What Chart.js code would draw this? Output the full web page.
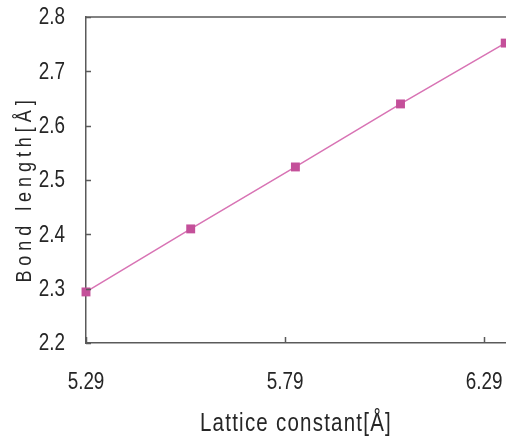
<!DOCTYPE html>
<html>
<head>
<meta charset="utf-8">
<script src="https://cdn.jsdelivr.net/npm/chart.js@4/dist/chart.umd.min.js"></script>
<style>
  html, body { margin: 0; padding: 0; background: #fff; overflow: hidden; }
  #wrap { width: 506px; height: 441px; position: relative; }
</style>
</head>
<body>
<div id="wrap"><canvas id="bondChart"></canvas></div>
<script>
// lattice constant vs. bond length
const latticeConstant = [5.29, 5.553, 5.816, 6.08, 6.343];
const bondLength = [2.294, 2.41, 2.524, 2.64, 2.752];
const xTickValues = [5.29, 5.79, 6.29];
const yTickValues = [2.2, 2.3, 2.4, 2.5, 2.6, 2.7, 2.8];

const xTitle = 'Lattice constant[Å]';
const yTitle = 'Bond length[Å]';

const FONT = "'Liberation Sans', Arial, sans-serif";
const NARROW = 0.82;   // horizontal squeeze for the narrow lettering
const axisColor = '#5a5a5a';
const textColor = '#262626';

// text squeezed horizontally around (x, y)
function narrowText(ctx, text, x, y, align, size, spacing, angle = 0) {
  ctx.save();
  ctx.translate(x, y);
  ctx.rotate(angle);
  ctx.scale(NARROW, 1);
  ctx.font = size + 'px ' + FONT;
  ctx.letterSpacing = spacing + 'px';
  ctx.textAlign = align;
  ctx.textBaseline = 'middle';
  ctx.fillText(text, 0, 0);
  ctx.restore();
}

// inward tick marks, top frame line, tick labels and axis titles
const framePlugin = {
  id: 'frame',
  afterDraw(chart) {
    const { ctx, chartArea: a, scales: { x, y } } = chart;
    ctx.save();
    ctx.strokeStyle = axisColor;
    ctx.lineWidth = 1.5;
    ctx.beginPath();
    ctx.moveTo(a.left, a.top);
    ctx.lineTo(a.right + 2, a.top);
    yTickValues.forEach(v => {
      const py = Math.round(y.getPixelForValue(v)) + 0.5;
      ctx.moveTo(a.left, py);
      ctx.lineTo(a.left + 5, py);
    });
    xTickValues.forEach(v => {
      const px = Math.round(x.getPixelForValue(v)) + 0.5;
      ctx.moveTo(px, a.bottom);
      ctx.lineTo(px, a.bottom - 6);
    });
    ctx.stroke();

    ctx.fillStyle = textColor;
    yTickValues.forEach(v => {
      narrowText(ctx, v.toFixed(1), a.left - 21, y.getPixelForValue(v) + 1, 'right', 23, 0);
    });
    xTickValues.forEach(v => {
      narrowText(ctx, v.toFixed(2), x.getPixelForValue(v), a.bottom + 40, 'center', 23, 0);
    });

    narrowText(ctx, xTitle, 296, 424, 'center', 25, 1.5);
    narrowText(ctx, yTitle, 25, 189, 'center', 22, 6, -Math.PI / 2);
    ctx.restore();
  }
};

new Chart(document.getElementById('bondChart'), {
  type: 'scatter',
  data: {
    datasets: [{
      data: latticeConstant.map((v, i) => ({ x: v, y: bondLength[i] })),
      showLine: true,
      borderColor: '#d873b4',
      borderWidth: 1.5,
      backgroundColor: '#c4509a',
      pointStyle: 'rect',
      pointRadius: 6.3,
      pointBorderWidth: 0,
      clip: false,
    }]
  },
  options: {
    responsive: true,
    maintainAspectRatio: false,
    animation: false,
    layout: { autoPadding: false, padding: { top: 17, right: 0, left: 0, bottom: 0 } },
    plugins: { legend: { display: false }, tooltip: { enabled: false } },
    scales: {
      x: {
        type: 'linear',
        min: 5.29,
        max: 6.345,
        afterBuildTicks: s => { s.ticks = xTickValues.map(v => ({ value: v })); },
        afterFit: s => { s.height = 98; s.paddingLeft = 0; s.paddingRight = 0; },
        grid: { drawOnChartArea: false, drawTicks: false },
        border: { display: true, color: axisColor, width: 1.5 },
        ticks: { display: false },
      },
      y: {
        min: 2.2,
        max: 2.8,
        afterBuildTicks: s => { s.ticks = yTickValues.map(v => ({ value: v })); },
        afterFit: s => { s.width = 86; s.paddingTop = 0; s.paddingBottom = 0; },
        grid: { drawOnChartArea: false, drawTicks: false },
        border: { display: true, color: axisColor, width: 1.5 },
        ticks: { display: false },
      },
    },
  },
  plugins: [framePlugin],
});
</script>
</body>
</html>
